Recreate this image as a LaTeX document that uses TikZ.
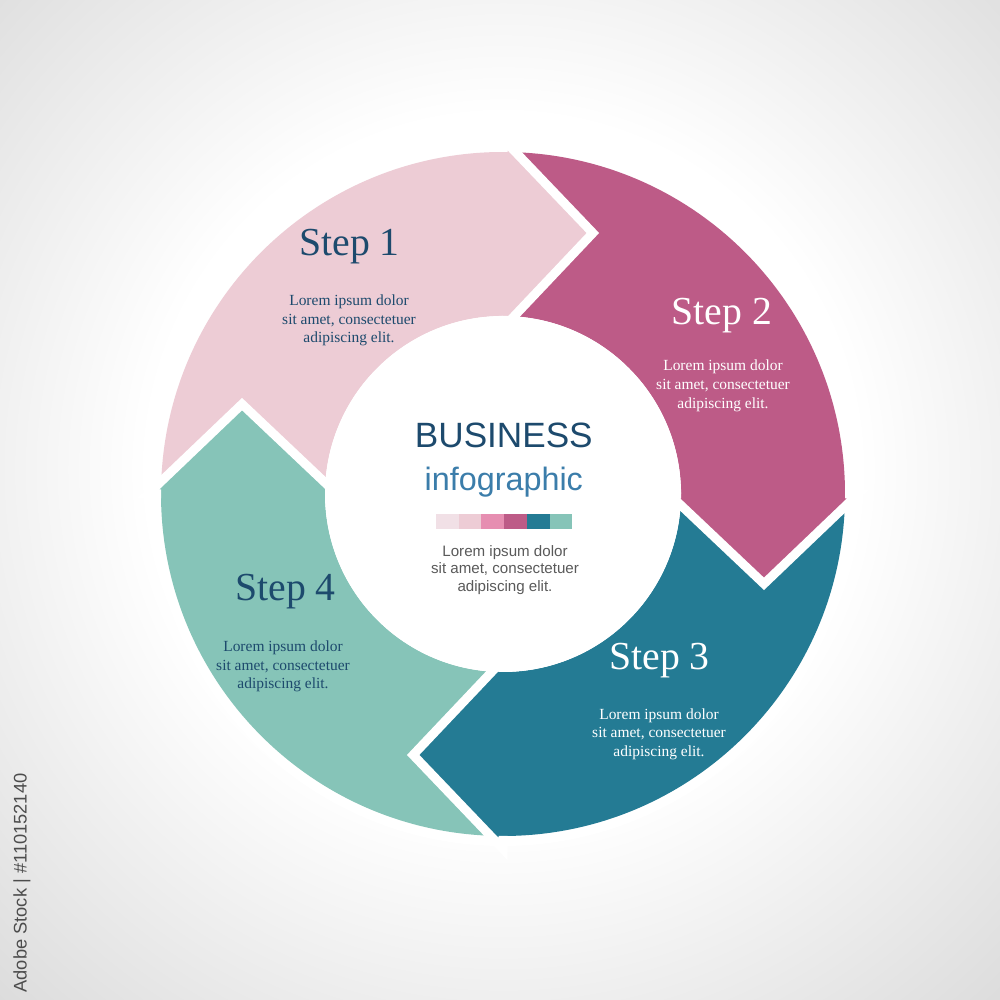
\documentclass[tikz,border=0pt]{standalone}
\usepackage{fontspec}
\setmainfont{Liberation Serif}
\setsansfont{Liberation Sans}
\usepackage{tikz}
\usetikzlibrary{shapes,arrows}
\definecolor{steppink}{HTML}{EDCCD5}
\definecolor{stepmagenta}{HTML}{BD5B87}
\definecolor{stepteal}{HTML}{247B94}
\definecolor{stepmint}{HTML}{86C4B8}
\definecolor{palepink}{HTML}{F1E0E6}
\definecolor{rosepink}{HTML}{E68EB1}
\definecolor{navytext}{HTML}{1D4A6D}
\definecolor{bluetext}{HTML}{3B7DAA}
\definecolor{greytext}{HTML}{5A5A5A}
\pgfdeclareradialshading{bgglow}{\pgfpoint{0bp}{0bp}}{color(0bp)=(white); color(12bp)=(white); color(17.5bp)=(black!6); color(25bp)=(black!14); color(50bp)=(black!14)}
\tikzstyle{head} = [draw=white, line width=0.9mm, line join=miter]
\tikzstyle{steplabel} = [anchor=base, font=\fontsize{11.3}{13}\selectfont]
\tikzstyle{steptext} = [align=center, font=\fontsize{4.4}{5.33}\selectfont]
\tikzstyle{swatch} = [rectangle, minimum width=2.27mm, minimum height=1.5mm,
    inner sep=0pt, outer sep=0pt, node distance=2.27mm]

\begin{document}
\begin{tikzpicture}
    \useasboundingbox (0,0) rectangle (10,10);
    \begin{scope}
    \clip (0,0) rectangle (10,10);
    \fill[black!14] (0,0) rectangle (10,10);
    \shade[shading=bgglow] (5.03,5.3) circle (7.4);
    \end{scope}
    \begin{scope}[shift={(5.03,5.06)}]
    % We start by laying the four quarter rings on a white halo,
    % each one runs a little under its own head and the next one
    \fill[white] (0,0) circle (3.52);
    \fill[steppink] (88.5:3.42) arc[start angle=88.5, end angle=178.5, radius=3.42]
        -- (178.5:1.78) arc[start angle=178.5, end angle=88.5, radius=1.78] -- cycle;
    \fill[stepmagenta] (-1.5:3.42) arc[start angle=-1.5, end angle=88.5, radius=3.42]
        -- (88.5:1.78) arc[start angle=88.5, end angle=-1.5, radius=1.78] -- cycle;
    \fill[stepteal] (268.5:3.42) arc[start angle=268.5, end angle=358.5, radius=3.42]
        -- (358.5:1.78) arc[start angle=358.5, end angle=268.5, radius=1.78] -- cycle;
    \fill[stepmint] (178.5:3.42) arc[start angle=178.5, end angle=268.5, radius=3.42]
        -- (268.5:1.78) arc[start angle=268.5, end angle=178.5, radius=1.78] -- cycle;
    \fill[white] (0,0) circle (1.78);
    % The heads go on top, their white rims cut the notch in the next ring
    \filldraw[head, fill=steppink] (90:1.78) -- (90:1.66) -- (71:2.76) -- (90:3.55) -- (90:3.42);
    \filldraw[head, fill=stepmagenta] (0:1.78) -- (0:1.66) -- (-19:2.76) -- (0:3.55) -- (0:3.42);
    \filldraw[head, fill=stepteal] (270:1.78) -- (270:1.66) -- (251:2.76) -- (270:3.55) -- (270:3.42);
    \filldraw[head, fill=stepmint] (180:1.78) -- (180:1.66) -- (161:2.76) -- (180:3.55) -- (180:3.42);
    \end{scope}

    % Step labels and their texts
    \node [steplabel, text=navytext] (step1) at (3.495,7.443) {Step 1};
    \node [steptext, text=navytext] (text1) at (3.49,6.796)
        {Lorem ipsum dolor\\sit amet, consectetuer\\adipiscing elit.};
    \node [steplabel, text=white] (step2) at (7.22,6.757) {Step 2};
    \node [steptext, text=white] (text2) at (7.23,6.143)
        {Lorem ipsum dolor\\sit amet, consectetuer\\adipiscing elit.};
    \node [steplabel, text=white] (step3) at (6.595,3.307) {Step 3};
    \node [steptext, text=white] (text3) at (6.59,2.659)
        {Lorem ipsum dolor\\sit amet, consectetuer\\adipiscing elit.};
    \node [steplabel, text=navytext] (step4) at (2.855,3.993) {Step 4};
    \node [steptext, text=navytext] (text4) at (2.83,3.336)
        {Lorem ipsum dolor\\sit amet, consectetuer\\adipiscing elit.};

    % Centre title, colour strip and text
    \node [anchor=base, text=navytext, font=\sffamily\fontsize{10}{12}\selectfont]
        (title) at (5.038,5.52) {BUSINESS};
    \node [anchor=base, text=bluetext, font=\sffamily\fontsize{9.2}{11}\selectfont]
        (subtitle) at (5.038,5.093) {infographic};
    \node [swatch, fill=palepink] (sw1) at (4.474,4.785) {};
    \node [swatch, fill=steppink, right of=sw1] (sw2) {};
    \node [swatch, fill=rosepink, right of=sw2] (sw3) {};
    \node [swatch, fill=stepmagenta, right of=sw3] (sw4) {};
    \node [swatch, fill=stepteal, right of=sw4] (sw5) {};
    \node [swatch, fill=stepmint, right of=sw5] (sw6) {};
    \node [align=center, text=greytext, font=\sffamily\fontsize{4.3}{4.98}\selectfont]
        (centretext) at (5.05,4.302)
        {Lorem ipsum dolor\\sit amet, consectetuer\\adipiscing elit.};

    \node [rotate=90, text=black!70, font=\sffamily\fontsize{5.2}{6}\selectfont]
        (stockid) at (0.22,1.17) {Adobe Stock | \#110152140};
\end{tikzpicture}
\end{document}
